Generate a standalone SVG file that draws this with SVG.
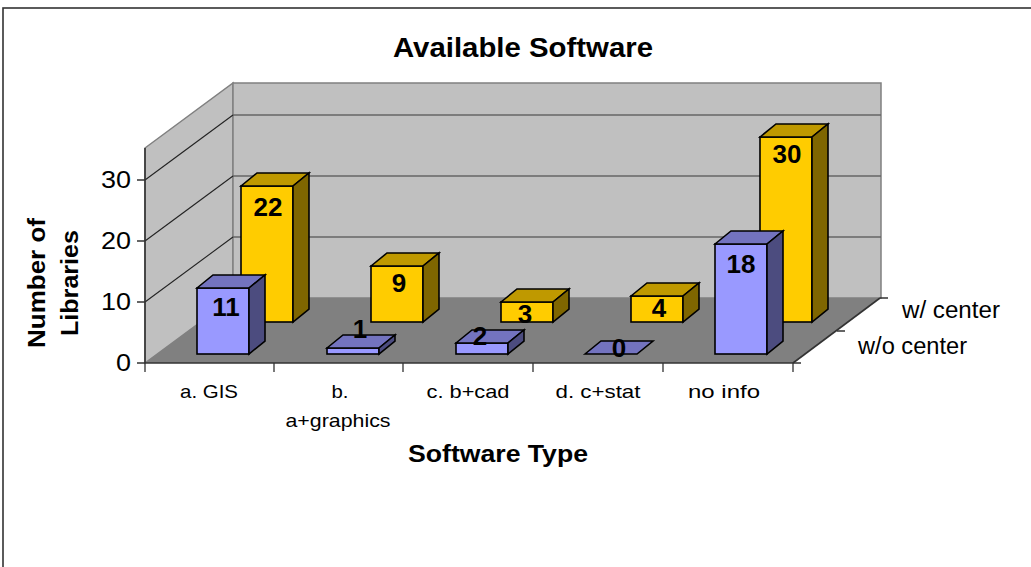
<svg xmlns="http://www.w3.org/2000/svg" width="1031" height="567" viewBox="0 0 1031 567">
<style>
  .t { font-family: "Liberation Sans", Arial, sans-serif; fill: #000; }
  .b { font-weight: bold; }
  .wall { fill: #C0C0C0; stroke: #808080; stroke-width: 1.5; }
  .floor { fill: #808080; stroke: none; }
  .grid { stroke: #666; stroke-width: 1.3; fill: none; }
  .diag { stroke: #222; stroke-width: 1.1; fill: none; }
  .axis { stroke: #333; stroke-width: 1.6; fill: none; }
  .tick { stroke: #333; stroke-width: 1.3; fill: none; }
  .bar { stroke: #000; stroke-width: 1.6; stroke-linejoin: miter; }
  .bf { fill: #9999FF; } .bt { fill: #7373BF; } .bs { fill: #4C4C7F; }
  .yf { fill: #FFCC00; } .yt { fill: #BF9900; } .ys { fill: #7F6600; }
  .val { font-size: 26px; text-anchor: middle; }
  .cat { font-size: 19px; text-anchor: middle; }
  .num { font-size: 24px; text-anchor: end; }
</style>

<rect id="frame" x="3" y="8" width="1040" height="600" fill="#FFFFFF" stroke="#333" stroke-width="1.6"/>

<g id="title"><text class="t b" x="523" y="57" font-size="28" text-anchor="middle" textLength="260" lengthAdjust="spacingAndGlyphs">Available Software</text></g>

<g id="walls">
  <polygon class="wall" points="145,148 233,83 233,298 145,363"/>
  <rect class="wall" x="233" y="83" width="648" height="215"/>
  <polygon class="floor" points="145,363 233,298 880,298 793,363"/>
  <line class="grid" x1="233" y1="237" x2="881" y2="237"/>
  <line class="grid" x1="233" y1="176" x2="881" y2="176"/>
  <line class="grid" x1="233" y1="115" x2="881" y2="115"/>
  <line class="diag" x1="145" y1="302" x2="233" y2="237"/>
  <line class="diag" x1="145" y1="241" x2="233" y2="176"/>
  <line class="diag" x1="145" y1="180" x2="233" y2="115"/>
  <line class="axis" x1="145" y1="148" x2="145" y2="363"/>
  <line class="axis" x1="145" y1="363" x2="793" y2="363"/>
  <line class="axis" x1="793" y1="363" x2="880" y2="298"/>
</g>

<g id="ticks">
  <path class="tick" d="M137,363H145M137,302H145M137,241H145M137,180H145"/>
  <path class="tick" d="M145,363V372M274,363V372M403,363V372M533,363V372M663,363V372M793,363V372"/>
  <path class="tick" d="M793,363H801M837,331H845M880,298H888"/>
</g>

<g id="y-axis-labels">
  <text class="t num" x="131" y="371" textLength="15" lengthAdjust="spacingAndGlyphs">0</text>
  <text class="t num" x="131" y="310" textLength="30" lengthAdjust="spacingAndGlyphs">10</text>
  <text class="t num" x="131" y="249" textLength="30" lengthAdjust="spacingAndGlyphs">20</text>
  <text class="t num" x="131" y="188" textLength="30" lengthAdjust="spacingAndGlyphs">30</text>
</g>

<g id="y-axis-title">
  <text class="t b" font-size="24" text-anchor="middle" transform="translate(45,283) rotate(-90)" textLength="130" lengthAdjust="spacingAndGlyphs">Number of</text>
  <text class="t b" font-size="24" text-anchor="middle" transform="translate(78,283) rotate(-90)" textLength="106" lengthAdjust="spacingAndGlyphs">Libraries</text>
</g>

<g id="category-labels">
  <text class="t cat" x="209" y="398" textLength="58" lengthAdjust="spacingAndGlyphs">a. GIS</text>
  <text class="t cat" x="340" y="398" textLength="17" lengthAdjust="spacingAndGlyphs">b.</text>
  <text class="t cat" x="338" y="427" textLength="105" lengthAdjust="spacingAndGlyphs">a+graphics</text>
  <text class="t cat" x="468" y="398" textLength="83" lengthAdjust="spacingAndGlyphs">c. b+cad</text>
  <text class="t cat" x="598" y="398" textLength="85" lengthAdjust="spacingAndGlyphs">d. c+stat</text>
  <text class="t cat" x="724" y="398" textLength="72" lengthAdjust="spacingAndGlyphs">no info</text>
</g>

<g id="x-axis-title"><text class="t b" x="498" y="462" font-size="24" text-anchor="middle" textLength="180" lengthAdjust="spacingAndGlyphs">Software Type</text></g>

<g id="series-labels">
  <text class="t" x="902" y="318" font-size="23" textLength="98" lengthAdjust="spacingAndGlyphs">w/ center</text>
  <text class="t" x="858" y="354" font-size="23" textLength="109" lengthAdjust="spacingAndGlyphs">w/o center</text>
</g>

<g id="bars-w-center">
  <g id="bar-y-gis" class="bar">
    <rect class="yf" x="241" y="186" width="52" height="136"/>
    <polygon class="yt" points="241,186 257,173 309,173 293,186"/>
    <polygon class="ys" points="293,186 309,173 309,309 293,322"/>
  </g>
  <g id="bar-y-graphics" class="bar">
    <rect class="yf" x="371" y="266" width="52" height="56"/>
    <polygon class="yt" points="371,266 387,253 439,253 423,266"/>
    <polygon class="ys" points="423,266 439,253 439,309 423,322"/>
  </g>
  <g id="bar-y-cad" class="bar">
    <rect class="yf" x="501" y="302" width="52" height="20"/>
    <polygon class="yt" points="501,302 517,289 569,289 553,302"/>
    <polygon class="ys" points="553,302 569,289 569,309 553,322"/>
  </g>
  <g id="bar-y-stat" class="bar">
    <rect class="yf" x="631" y="296" width="52" height="26"/>
    <polygon class="yt" points="631,296 647,283 699,283 683,296"/>
    <polygon class="ys" points="683,296 699,283 699,309 683,322"/>
  </g>
  <g id="bar-y-noinfo" class="bar">
    <rect class="yf" x="760" y="137" width="52" height="185"/>
    <polygon class="yt" points="760,137 776,124 828,124 812,137"/>
    <polygon class="ys" points="812,137 828,124 828,309 812,322"/>
  </g>
</g>

<g id="bars-wo-center">
  <g id="bar-b-gis" class="bar">
    <rect class="bf" x="197" y="288" width="52" height="66"/>
    <polygon class="bt" points="197,288 213,275 265,275 249,288"/>
    <polygon class="bs" points="249,288 265,275 265,341 249,354"/>
  </g>
  <g id="bar-b-graphics" class="bar">
    <rect class="bf" x="327" y="348" width="52" height="6"/>
    <polygon class="bt" points="327,348 343,335 395,335 379,348"/>
    <polygon class="bs" points="379,348 395,335 395,341 379,354"/>
  </g>
  <g id="bar-b-cad" class="bar">
    <rect class="bf" x="456" y="343" width="52" height="11"/>
    <polygon class="bt" points="456,343 472,330 524,330 508,343"/>
    <polygon class="bs" points="508,343 524,330 524,341 508,354"/>
  </g>
  <g id="bar-b-stat" class="bar">
    <polygon class="bt" points="585,354 601,341 653,341 637,354"/>
  </g>
  <g id="bar-b-noinfo" class="bar">
    <rect class="bf" x="715" y="244" width="52" height="110"/>
    <polygon class="bt" points="715,244 731,231 783,231 767,244"/>
    <polygon class="bs" points="767,244 783,231 783,341 767,354"/>
  </g>
</g>

<g id="value-labels">
  <text class="t b val" x="268" y="216">22</text>
  <text class="t b val" x="399" y="292">9</text>
  <text class="t b val" x="525" y="323">3</text>
  <text class="t b val" x="659" y="317">4</text>
  <text class="t b val" x="787" y="163">30</text>
  <text class="t b val" x="226" y="316">11</text>
  <text class="t b val" x="360" y="338">1</text>
  <text class="t b val" x="480" y="345">2</text>
  <text class="t b val" x="619" y="357">0</text>
  <text class="t b val" x="741" y="273">18</text>
</g>
</svg>
